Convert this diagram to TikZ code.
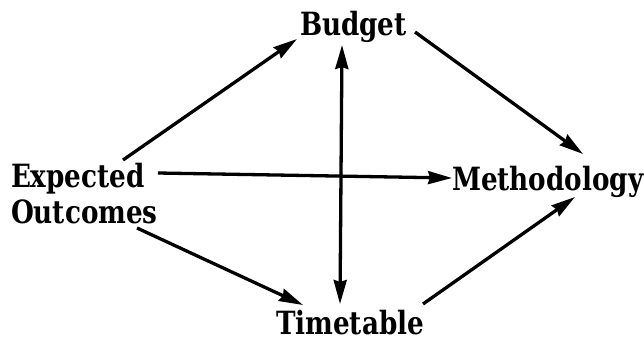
\documentclass[tikz,border=0pt]{standalone}
\usepackage{fontspec}
\newfontfamily\lblfont{DejaVu Serif}[FakeStretch=0.82]
\usetikzlibrary{arrows.meta}
\tikzset{
  lbl/.style={inner sep=0pt, outer sep=0pt, font=\lblfont\bfseries\fontsize{32}{36}\selectfont},
  conn/.style={line width=3.3pt, -{Stealth[length=24pt,width=13pt,inset=2pt]}},
  biconn/.style={line width=3.3pt, {Stealth[length=24pt,width=13pt,inset=2pt]}-{Stealth[length=24pt,width=13pt,inset=2pt]}}
}
\begin{document}
\begin{tikzpicture}[x=1pt,y=-1pt]
\useasboundingbox (0,0) rectangle (644,343);
\node[lbl, anchor=base west, align=left] (E) at (11,223) {Expected\\Outcomes};
\node[lbl, anchor=base west] (B) at (300,35) {Budget};
\node[lbl, anchor=base west] (M) at (452,190) {Methodology};
\node[lbl, anchor=base west, text depth=0pt] (T) at (276,334) {Timetable};
\draw[conn] ([shift={(112,-63)}]E.base west) -- ([shift={(-3,4)}]B.base west);
\draw[conn] ([shift={(115,-3)}]B.base west) -- ([shift={(131,-36)}]M.base west);
\draw[conn] ([shift={(147,-50)}]E.base west) -- ([shift={(0,-12)}]M.base west);
\draw[conn] ([shift={(126,5)}]E.base west) -- ([shift={(27,-29)}]T.base west);
\draw[conn] ([shift={(147,-30)}]T.base west) -- ([shift={(123,7)}]M.base west);
\draw[biconn] ([shift={(42,10)}]B.base west) -- ([shift={(64,-30)}]T.base west);
\end{tikzpicture}
\end{document}
